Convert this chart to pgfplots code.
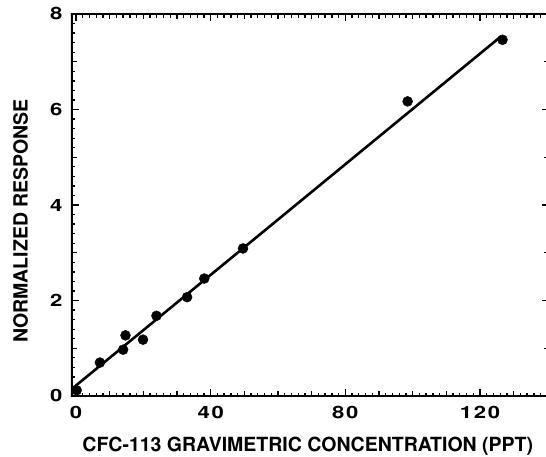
\documentclass[border=0pt]{standalone}
\usepackage[T1]{fontenc}
\usepackage{helvet}
\renewcommand{\familydefault}{\sfdefault}
\usepackage{pgfplots}
\pgfplotsset{compat=1.18}
\newcommand{\tickfont}{\fontsize{17bp}{17bp}\selectfont\bfseries}
\newcommand{\labfont}{\fontsize{19.5bp}{19.5bp}\selectfont\bfseries}
\newcommand{\wl}[1]{\scalebox{1.3}[1]{#1}}
\begin{document}
\begin{tikzpicture}
\begin{axis}[
  name=ax,
  axis on top,
  scale only axis,
  width=477.3bp, height=382bp,
  xmin=-1.28, xmax=140.5,
  ymin=0, ymax=8,
  axis line style={black, line width=1.8bp},
  tick style={black, line width=1.3bp},
  major tick length=7bp,
  minor tick length=3.5bp,
  tick align=inside,
  xtick={0,40,80,120},
  xticklabels={\wl{0},\wl{4\kern1.3bp0},\wl{8\kern1.3bp0},\wl{1\kern1.3bp2\kern1.3bp0}},
  minor xtick={0,2,...,140},
  ytick={0,2,4,6,8},
  yticklabels={\wl{0},\wl{2},\wl{4},\wl{6},\wl{8}},
  minor ytick={0,0.2,...,8},
  extra x ticks={10,20,30,50,60,70,90,100,110,130},
  extra x tick labels={},
  extra y ticks={1,3,5,7},
  extra y tick labels={},
  extra tick style={major tick length=5bp},
  xticklabel style={font=\tickfont, anchor=north, inner sep=0pt, yshift=-10.5bp},
  yticklabel style={font=\tickfont, anchor=east, inner sep=0pt, xshift=-9bp},
  xlabel={CFC-113 GRAVIMETRIC CONCENTRATION (PPT)},
  ylabel={NORMALIZED RESPONSE},
  xlabel style={font=\labfont, at={(axis description cs:0.0222,-0.1458)}, anchor=base west, inner sep=0pt},
  ylabel style={font=\labfont, at={(axis description cs:-0.0922,0.1387)}, anchor=base west, inner sep=0pt},
  clip=false,
]
\addplot[only marks, mark=*, mark size=5bp, black] coordinates {
  (0.2,0.12) (7.1,0.70) (14.0,0.97) (14.7,1.27) (19.9,1.18) (23.9,1.68)
  (33.0,2.07) (38.1,2.46) (49.6,3.09) (98.5,6.17) (126.7,7.46)
};
\addplot[no marks, black, line width=2.6bp] coordinates {(-1.28,0.146) (126.4,7.54)};
\fill[black, even odd rule]
  ([xshift=-0.9bp,yshift=-0.9bp]rel axis cs:0,0) rectangle ([xshift=0.9bp,yshift=0.9bp]rel axis cs:1,1)
  ([xshift=0.9bp,yshift=0.9bp]rel axis cs:0,0) rectangle ([xshift=-0.9bp,yshift=-0.9bp]rel axis cs:1,1);
\end{axis}
\pgfresetboundingbox
\path[use as bounding box] ([xshift=-71.7bp,yshift=-61bp]ax.south west) rectangle ([xshift=474.3bp,yshift=396bp]ax.south west);
\end{tikzpicture}
\end{document}
